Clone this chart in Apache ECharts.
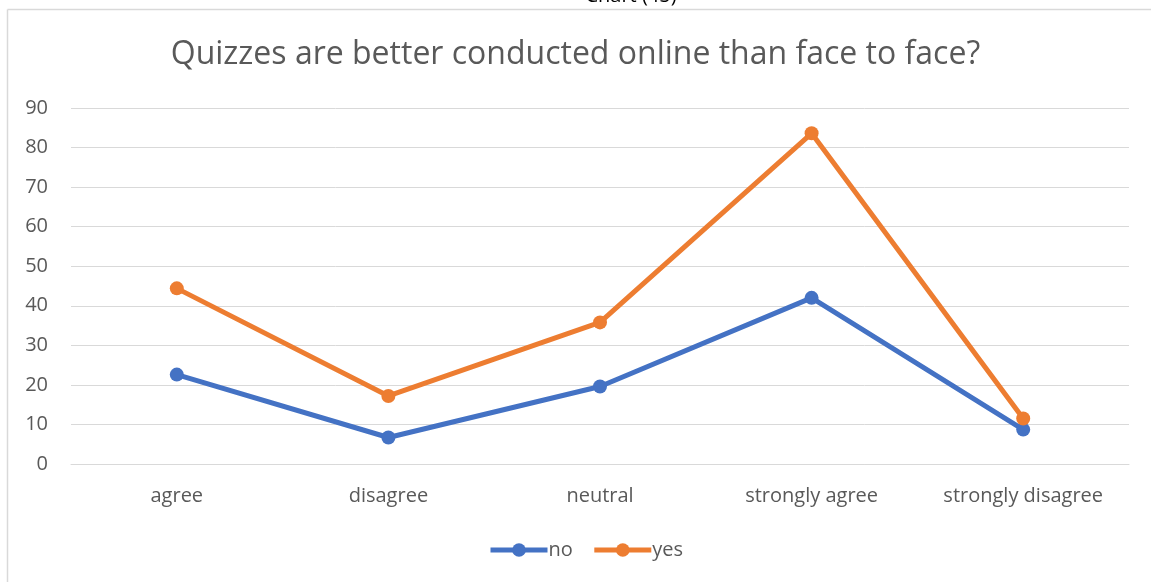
<!DOCTYPE html>
<html>
<head>
<meta charset="utf-8">
<script src="https://cdn.jsdelivr.net/npm/echarts@6/dist/echarts.min.js"></script>
<style>
html,body{margin:0;padding:0;background:#fff;}
#c{width:1151px;height:582px;}
</style>
</head>
<body>
<div id="c"></div>
<script>
const categories = ['agree', 'disagree', 'neutral', 'strongly agree', 'strongly disagree'];
const noValues = [22.6, 6.7, 19.6, 42.0, 8.7];
const yesValues = [44.4, 17.2, 35.8, 83.6, 11.5];
const yTicks = [0, 10, 20, 30, 40, 50, 60, 70, 80, 90];
const titleText = 'Quizzes are better conducted online than face to face?';
const topText = 'Chart (45)';

const FONT = '"Open Sans", "Noto Sans", sans-serif';
const chart = echarts.init(document.getElementById('c'), null, {renderer: 'canvas'});
chart.setOption({
  backgroundColor: '#fff',
  animation: false,
  title: {
    text: titleText,
    left: 'center',
    top: 34,
    textStyle: {fontFamily: FONT, fontSize: 32, fontWeight: 'normal', color: '#595959'}
  },
  graphic: [
    {type: 'line', shape: {x1: 7.5, y1: 582, x2: 7.5, y2: 9.5}, style: {stroke: '#d9d9d9', lineWidth: 1.5}},
    {type: 'line', shape: {x1: 7.5, y1: 9.5, x2: 1151, y2: 9.5}, style: {stroke: '#d9d9d9', lineWidth: 1.5}},
    {type: 'text', x: 631, y: 6, style: {text: topText, font: '20px ' + FONT, fill: '#000', align: 'center', verticalAlign: 'bottom'}}
  ],
  legend: {
    data: ['no', 'yes'],
    top: 535,
    left: 483,
    itemWidth: 57,
    itemHeight: 17,
    itemGap: 19,
    lineStyle: {width: 5},
    textStyle: {fontFamily: FONT, fontSize: 20, color: '#595959', padding: [0, 0, 0, -4]}
  },
  grid: {left: 71, right: 22, top: 108, bottom: 118, containLabel: false},
  xAxis: {
    type: 'category',
    data: categories,
    boundaryGap: true,
    axisLine: {show: true, lineStyle: {color: '#d9d9d9', width: 1}},
    axisTick: {show: false},
    axisLabel: {fontFamily: FONT, fontSize: 20, color: '#595959', margin: 22, interval: 0}
  },
  yAxis: {
    type: 'value',
    min: yTicks[0],
    max: yTicks[yTicks.length - 1],
    interval: 10,
    axisLine: {show: false},
    axisTick: {show: false},
    axisLabel: {fontFamily: FONT, fontSize: 20, color: '#595959', margin: 23},
    splitLine: {lineStyle: {color: '#d9d9d9', width: 1}}
  },
  series: [
    {
      name: 'no', type: 'line', data: noValues,
      symbol: 'circle', symbolSize: 14,
      lineStyle: {width: 5, color: '#4472C4'},
      itemStyle: {color: '#4472C4'}
    },
    {
      name: 'yes', type: 'line', data: yesValues,
      symbol: 'circle', symbolSize: 14,
      lineStyle: {width: 5, color: '#ED7D31'},
      itemStyle: {color: '#ED7D31'}
    }
  ]
});
</script>
</body>
</html>
